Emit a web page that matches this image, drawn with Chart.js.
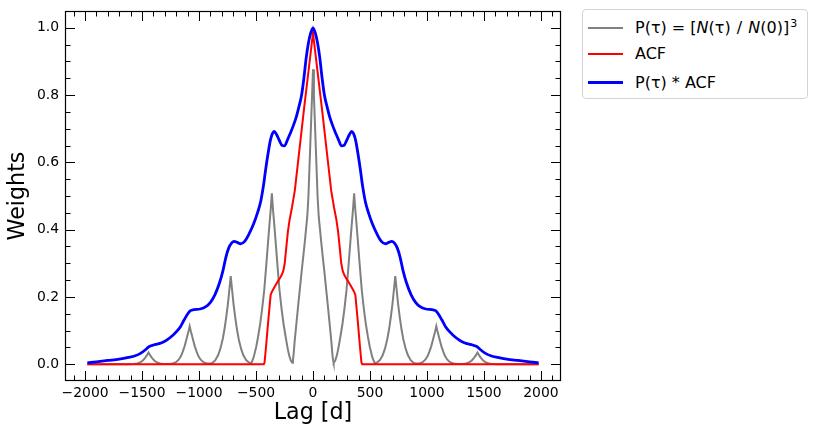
<!DOCTYPE html>
<html>
<head>
<meta charset="utf-8">
<script src="https://cdn.jsdelivr.net/npm/chart.js@4/dist/chart.umd.min.js"></script>
<style>
html,body{margin:0;padding:0;background:#fff;}
#wrap{position:relative;width:818px;height:436px;overflow:hidden;}
#legend{position:absolute;left:582px;top:9px;width:226px;height:90px;border:1px solid #d3d3d3;border-radius:4px;background:#fff;box-sizing:border-box;font-family:'DejaVu Sans',sans-serif;font-size:16px;color:#000;}
.sw{position:absolute;left:5px;width:35px;}
.lb{position:absolute;left:52px;height:22px;line-height:22px;white-space:nowrap;}
.lb sup{font-size:11px;vertical-align:0;position:relative;top:-6px;margin-left:1px;}
.lb .m{margin:0 1px;}
</style>
</head>
<body>
<div id="wrap">
<canvas id="c" width="818" height="436"></canvas>
<div id="legend"></div>
</div>
<script>
// ---------------- data ----------------
const seriesLabels = ['P(\u03c4) = [N(\u03c4) / N(0)]\u00b3', 'ACF', 'P(\u03c4) * ACF'];
const legendHtml = ['P(\u03c4) = [<i>N</i>(\u03c4) <span class="m">/</span> <i>N</i>(0)]<sup>3</sup>', 'ACF', 'P(\u03c4) * ACF'];

const grayLags = [
 -1980,-1623,-1573,-1543,-1518,-1493,-1473,-1458,-1443,-1428,-1413,-1393,-1368,-1343,-1313,-1262,
 -1232,-1202,-1177,-1157,-1142,-1127,-1112,-1102,-1092,-1082,-1072,-1062,-1052,-1037,-1022,-1007,-987,-962,-932,-902,
 -882,-857,-832,-812,-792,-777,-762,-747,-732,-722,-712,-697,-682,-667,-652,-632,-612,-587,-562,-541,
 -521,-498,-481,-463,-446,-428,-411,-393,-381,-371,-361,-351,-341,-329,-311,-294,-276,-259,-241,-224,-210,-195,-181,
 -176,-170,-161,-132,-102,-73,-50,-40,-32,-24,-16,-8,0,
 8,16,24,32,40,50,73,102,132,161,170,176,
 181,195,210,224,241,259,276,294,311,329,341,351,361,371,381,393,411,428,446,463,481,498,521,
 541,562,587,612,632,652,667,682,697,712,722,732,747,762,777,792,812,832,857,882,
 902,932,962,987,1007,1022,1037,1052,1062,1072,1082,1092,1102,1112,1127,1142,1157,1177,1202,1232,
 1262,1313,1343,1368,1393,1413,1428,1443,1458,1473,1493,1518,1543,1573,1623,1980
];
const grayValues = [
 0,0,0.0005,0.002,0.005,0.011,0.019,0.026,0.035,0.026,0.019,0.011,0.005,0.002,0.0005,0.0005,
 0.002,0.006,0.014,0.025,0.038,0.053,0.072,0.085,0.098,0.113,0.098,0.085,0.072,0.053,0.038,0.025,0.014,0.006,0.002,0.002,
 0.004,0.012,0.027,0.047,0.075,0.103,0.138,0.178,0.228,0.262,0.228,0.178,0.138,0.103,0.075,0.047,0.027,0.012,0.005,0.003,
 0.02,0.052,0.083,0.121,0.165,0.22,0.29,0.369,0.42,0.46,0.508,0.46,0.42,0.369,0.29,0.22,0.165,0.121,0.083,0.05,0.027,0.011,0.004,
 0.012,0.03,0.068,0.168,0.268,0.36,0.44,0.50,0.575,0.65,0.725,0.80,0.877,
 0.80,0.725,0.65,0.575,0.50,0.44,0.36,0.268,0.168,0.068,0.03,0.012,
 0.004,0.011,0.027,0.05,0.083,0.121,0.165,0.22,0.29,0.369,0.42,0.46,0.508,0.46,0.42,0.369,0.29,0.22,0.165,0.121,0.083,0.052,0.02,
 0.003,0.005,0.012,0.027,0.047,0.075,0.103,0.138,0.178,0.228,0.262,0.228,0.178,0.138,0.103,0.075,0.047,0.027,0.012,0.004,
 0.002,0.002,0.006,0.014,0.025,0.038,0.053,0.072,0.085,0.098,0.113,0.098,0.085,0.072,0.053,0.038,0.025,0.014,0.006,0.002,
 0.0005,0.0005,0.002,0.005,0.011,0.019,0.026,0.035,0.026,0.019,0.011,0.005,0.002,0.0005,0,0
];

const acfLags = [
 -1980,-432,-425,-410,-395,-380,-372,-365,-350,-320,-292,-275,-260,-248,-235,-220,-205,-185,-160,-120,-80,-40,0,
 40,80,120,160,185,205,220,235,248,260,275,292,320,350,365,372,380,395,410,425,432,1980
];
const acfValues = [
 0,0,0.005,0.06,0.12,0.175,0.205,0.212,0.222,0.24,0.255,0.265,0.278,0.30,0.345,0.395,0.43,0.465,0.515,0.635,0.755,0.87,0.985,
 0.87,0.755,0.635,0.515,0.465,0.43,0.395,0.345,0.30,0.278,0.265,0.255,0.24,0.222,0.212,0.205,0.175,0.12,0.06,0.005,0,0
];

const weightLags = [
 -1980,-1900,-1800,-1700,-1620,-1560,-1510,-1470,-1440,-1400,-1350,-1300,-1250,-1200,-1160,-1130,-1100,-1075,-1045,-990,-940,-900,-860,-820,-790,-765,-740,-715,-690,-665,-635,-600,-560,-520,-485,-460,-435,-415,-395,-375,-358,-340,-320,-295,-270,-250,-225,-200,-175,-145,-120,-100,-80,-60,-40,-20,0,
 20,40,60,80,100,120,145,175,200,225,250,270,295,320,340,358,375,395,415,435,460,485,520,560,600,635,665,690,715,740,765,790,820,860,900,940,990,1045,1075,1100,1130,1160,1200,1250,1300,1350,1400,1440,1470,1510,1560,1620,1700,1800,1900,1980
];
const weightValues = [
 0.004,0.007,0.011,0.015,0.02,0.025,0.033,0.043,0.052,0.057,0.061,0.068,0.08,0.096,0.113,0.132,0.149,0.159,0.162,0.164,0.171,0.184,0.207,0.242,0.278,0.317,0.345,0.36,0.365,0.362,0.358,0.365,0.388,0.418,0.452,0.482,0.53,0.58,0.625,0.664,0.684,0.692,0.683,0.665,0.65,0.649,0.666,0.686,0.707,0.737,0.77,0.80,0.85,0.91,0.955,0.985,1.0,
 0.985,0.955,0.91,0.85,0.80,0.77,0.737,0.707,0.686,0.666,0.649,0.65,0.665,0.683,0.692,0.684,0.664,0.625,0.58,0.53,0.482,0.452,0.418,0.388,0.365,0.358,0.362,0.365,0.36,0.345,0.317,0.278,0.242,0.207,0.184,0.171,0.164,0.162,0.159,0.149,0.132,0.113,0.096,0.08,0.068,0.061,0.057,0.052,0.043,0.033,0.025,0.02,0.015,0.011,0.007,0.004
];

const xTickValues = [-2000,-1500,-1000,-500,0,500,1000,1500,2000];
const yTickValues = [0,0.2,0.4,0.6,0.8,1.0];

// ---------------- chart ----------------
const FONT = "'DejaVu Sans', sans-serif";
const pts = (xs, ys) => xs.map((v, i) => ({x: v, y: ys[i]}));

const frameTicks = {
  id: 'frameTicks',
  afterDatasetsDraw(chart) {
    const {ctx, chartArea: a, scales: {x, y}} = chart;
    ctx.save();
    ctx.strokeStyle = '#000';
    ctx.lineWidth = 1;
    ctx.beginPath();
    for (let i = -21; i <= 21; i++) {
      const v = i * 100;
      const px = Math.round(x.getPixelForValue(v)) + 0.5;
      if (px < a.left || px > a.right) continue;
      const len = (i % 5 === 0) ? 10 : 5.5;
      ctx.moveTo(px, a.bottom); ctx.lineTo(px, a.bottom - len);
      ctx.moveTo(px, a.top); ctx.lineTo(px, a.top + len);
    }
    for (let i = -1; i <= 21; i++) {
      const v = i * 0.05;
      const py = Math.round(y.getPixelForValue(v)) + 0.5;
      if (py < a.top || py > a.bottom) continue;
      const len = (i % 4 === 0) ? 10 : 5.5;
      ctx.moveTo(a.left, py); ctx.lineTo(a.left + len, py);
      ctx.moveTo(a.right, py); ctx.lineTo(a.right - len, py);
    }
    ctx.stroke();
    ctx.lineWidth = 1.2;
    ctx.strokeRect(Math.round(a.left) + 0.5, Math.round(a.top) + 0.5,
                   Math.round(a.right - a.left) - 1, Math.round(a.bottom - a.top) - 1);
    ctx.restore();
  }
};

const chart = new Chart(document.getElementById('c'), {
  type: 'line',
  data: {
    datasets: [
      {label: seriesLabels[0], data: pts(grayLags, grayValues), borderColor: '#808080', borderWidth: 2, pointRadius: 0, tension: 0, order: 3},
      {label: seriesLabels[1], data: pts(acfLags, acfValues), borderColor: '#ff0000', borderWidth: 2, pointRadius: 0, tension: 0, order: 2},
      {label: seriesLabels[2], data: pts(weightLags, weightValues), borderColor: '#0000ff', borderWidth: 2.8, pointRadius: 0, cubicInterpolationMode: 'monotone', order: 1}
    ]
  },
  options: {
    responsive: false,
    animation: false,
    events: [],
    layout: {padding: {left: 0, top: 11, right: 257, bottom: 0}},
    plugins: {legend: {display: false}, tooltip: {enabled: false}},
    scales: {
      x: {
        type: 'linear', min: -2176, max: 2176,
        grid: {display: false, drawTicks: false},
        border: {display: false},
        afterBuildTicks: s => { s.ticks = xTickValues.map(v => ({value: v})); },
        afterFit: s => { s.height = 55; s.paddingLeft = 0; s.paddingRight = 0; },
        ticks: {
          padding: 4, color: '#000', maxRotation: 0, autoSkip: false,
          font: {family: FONT, size: 13.9},
          callback: v => String(v).replace('-', '\u2212')
        },
        title: {display: true, text: 'Lag [d]', color: '#000', font: {family: FONT, size: 22.2}, padding: {top: 0, bottom: 9}}
      },
      y: {
        type: 'linear', min: -0.05, max: 1.05,
        grid: {display: false, drawTicks: false},
        border: {display: false},
        afterBuildTicks: s => { s.ticks = yTickValues.map(v => ({value: v})); },
        afterFit: s => { s.width = 65; s.paddingTop = 0; s.paddingBottom = 0; },
        ticks: {
          padding: 6, color: '#000', autoSkip: false,
          font: {family: FONT, size: 13.9},
          callback: v => Number(v).toFixed(1)
        },
        title: {display: true, text: 'Weights', color: '#000', font: {family: FONT, size: 22.2}, padding: {top: 5, bottom: 0}}
      }
    }
  },
  plugins: [frameTicks]
});

// ---------------- legend ----------------
const rowsY = [18.7, 45.3, 73.7];
const leg = document.getElementById('legend');
chart.data.datasets.forEach((ds, i) => {
  const sw = document.createElement('div');
  sw.className = 'sw';
  sw.style.top = (rowsY[i] - 1 - ds.borderWidth / 2) + 'px';
  sw.style.height = ds.borderWidth + 'px';
  sw.style.background = ds.borderColor;
  leg.appendChild(sw);
  const lb = document.createElement('div');
  lb.className = 'lb';
  lb.style.top = (rowsY[i] - 1 - 11) + 'px';
  lb.innerHTML = legendHtml[i];
  leg.appendChild(lb);
});
</script>
</body>
</html>
